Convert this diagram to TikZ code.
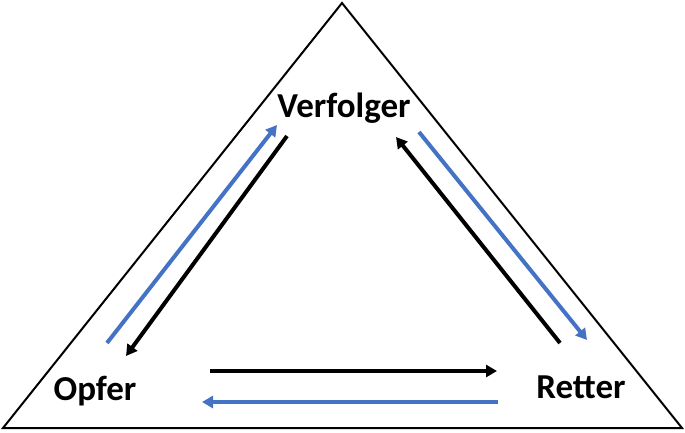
\documentclass[tikz,border=0pt]{standalone}
\usepackage{fontspec}
\setmainfont{Carlito}
\usetikzlibrary{arrows.meta}
\definecolor{pfeilblau}{RGB}{68,114,196}

\begin{document}
\begin{tikzpicture}[x=1pt,y=-1pt,
  rolle/.style={font=\bfseries\fontsize{35}{42}\selectfont, inner sep=0pt, anchor=base},
  pfeil/.style={line width=4pt, -{Triangle[length=11pt,width=12pt]}}]
\useasboundingbox (0,0) rectangle (685,432);
%drama triangle
\draw[line width=2pt, line join=miter] (342,3) -- (3,428) -- (682,428) -- cycle;

\node[rolle] (verfolger) at (344,117) {Verfolger};
\node[rolle] (opfer) at (95,400) {Opfer};
\node[rolle] (retter) at (581,398) {Retter};

%arrow ends
\coordinate (ov1) at (107,343); \coordinate (ov2) at (277,125);
\coordinate (vo1) at (287,136); \coordinate (vo2) at (126,356);
\coordinate (rv1) at (560,343); \coordinate (rv2) at (396,137);
\coordinate (vr1) at (419,132); \coordinate (vr2) at (587,340);
\coordinate (or1) at (210,371); \coordinate (or2) at (497,371);
\coordinate (ro1) at (498,402); \coordinate (ro2) at (202,402);

  \foreach \a/\b/\c in {ov1/ov2/pfeilblau, vo1/vo2/black, rv1/rv2/black,
                        vr1/vr2/pfeilblau, or1/or2/black, ro1/ro2/pfeilblau}
  {
    \draw[pfeil, draw=\c, fill=\c] (\a) -- (\b);
  }
\end{tikzpicture}
\end{document}
